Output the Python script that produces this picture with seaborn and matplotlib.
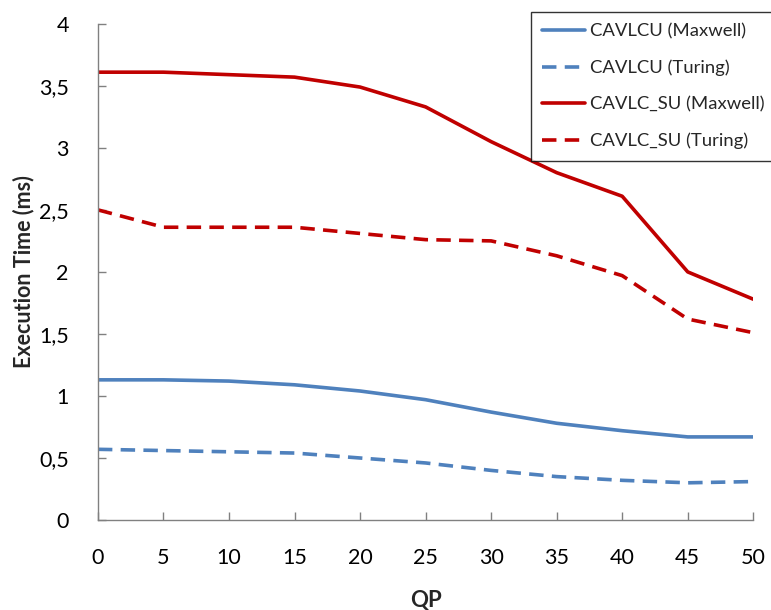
import matplotlib
matplotlib.use("Agg")
import matplotlib.pyplot as plt
import seaborn as sns
import pandas as pd

qp = [0, 5, 10, 15, 20, 25, 30, 35, 40, 45, 50]
cavlcu_maxwell = [1.13, 1.13, 1.12, 1.09, 1.04, 0.97, 0.87, 0.78, 0.72, 0.67, 0.67]
cavlcu_turing = [0.57, 0.56, 0.55, 0.54, 0.50, 0.46, 0.40, 0.35, 0.32, 0.30, 0.31]
cavlcsu_maxwell = [3.61, 3.61, 3.59, 3.57, 3.49, 3.33, 3.05, 2.80, 2.61, 2.00, 1.78]
cavlcsu_turing = [2.50, 2.36, 2.36, 2.36, 2.31, 2.26, 2.25, 2.13, 1.97, 1.62, 1.51]
series_names = ["CAVLCU (Maxwell)", "CAVLCU (Turing)", "CAVLC_SU (Maxwell)", "CAVLC_SU (Turing)"]
y_ticks = [0, 0.5, 1, 1.5, 2, 2.5, 3, 3.5, 4]
y_tick_labels = ["0", "0,5", "1", "1,5", "2", "2,5", "3", "3,5", "4"]
x_ticks = qp

sns.set_theme(style="white")
plt.rcParams['font.family'] = ['Lato', 'DejaVu Sans']

rows = []
for name, vals in zip(series_names, [cavlcu_maxwell, cavlcu_turing, cavlcsu_maxwell, cavlcsu_turing]):
    for q, v in zip(qp, vals):
        rows.append({"QP": q, "Time": v, "Series": name})
df = pd.DataFrame(rows)

fig = plt.figure(figsize=(7.71, 6.10), dpi=100)
ax = fig.add_axes([0.127, 0.1475, 0.850, 0.8135])

palette = {series_names[0]: "#4F81BD", series_names[1]: "#4F81BD",
           series_names[2]: "#C00000", series_names[3]: "#C00000"}
dashes = {series_names[0]: "", series_names[1]: (4, 2.3),
          series_names[2]: "", series_names[3]: (4, 2.3)}
sns.lineplot(data=df, x="QP", y="Time", hue="Series", style="Series",
             palette=palette, dashes=dashes, linewidth=2.6, ax=ax,
             hue_order=series_names, style_order=series_names)

ax.set_xlim(0, 50)
ax.set_ylim(0, 4)
ax.set_xticks(x_ticks)
ax.set_xticklabels([str(x) for x in x_ticks], fontsize=15.5)
ax.set_yticks(y_ticks)
ax.set_yticklabels(y_tick_labels, fontsize=15.5)
ax.tick_params(axis='both', direction='in', length=6, width=1, color='#808080',
               labelcolor='black', left=True, bottom=True)
ax.tick_params(axis='x', pad=20)
ax.tick_params(axis='y', pad=21)
for s in ['top', 'right']:
    ax.spines[s].set_visible(False)
for s in ['left', 'bottom']:
    ax.spines[s].set_color('#808080')
    ax.spines[s].set_linewidth(1)

ax.set_xlabel("QP", fontsize=16, fontweight='bold', labelpad=16)
ax.set_ylabel("Execution Time (ms)", fontsize=15.5, fontweight='bold', labelpad=3)

leg = ax.legend(loc='upper left', bbox_to_anchor=(531 / 771, 598 / 610),
                bbox_transform=fig.transFigure, fontsize=13.3,
                frameon=True, fancybox=False, edgecolor='black', borderpad=0.6,
                labelspacing=1.1, handlelength=2.3, handletextpad=0.3,
                borderaxespad=0, title=None)
leg.get_frame().set_linewidth(1)

fig.savefig("out.png", dpi=100)
